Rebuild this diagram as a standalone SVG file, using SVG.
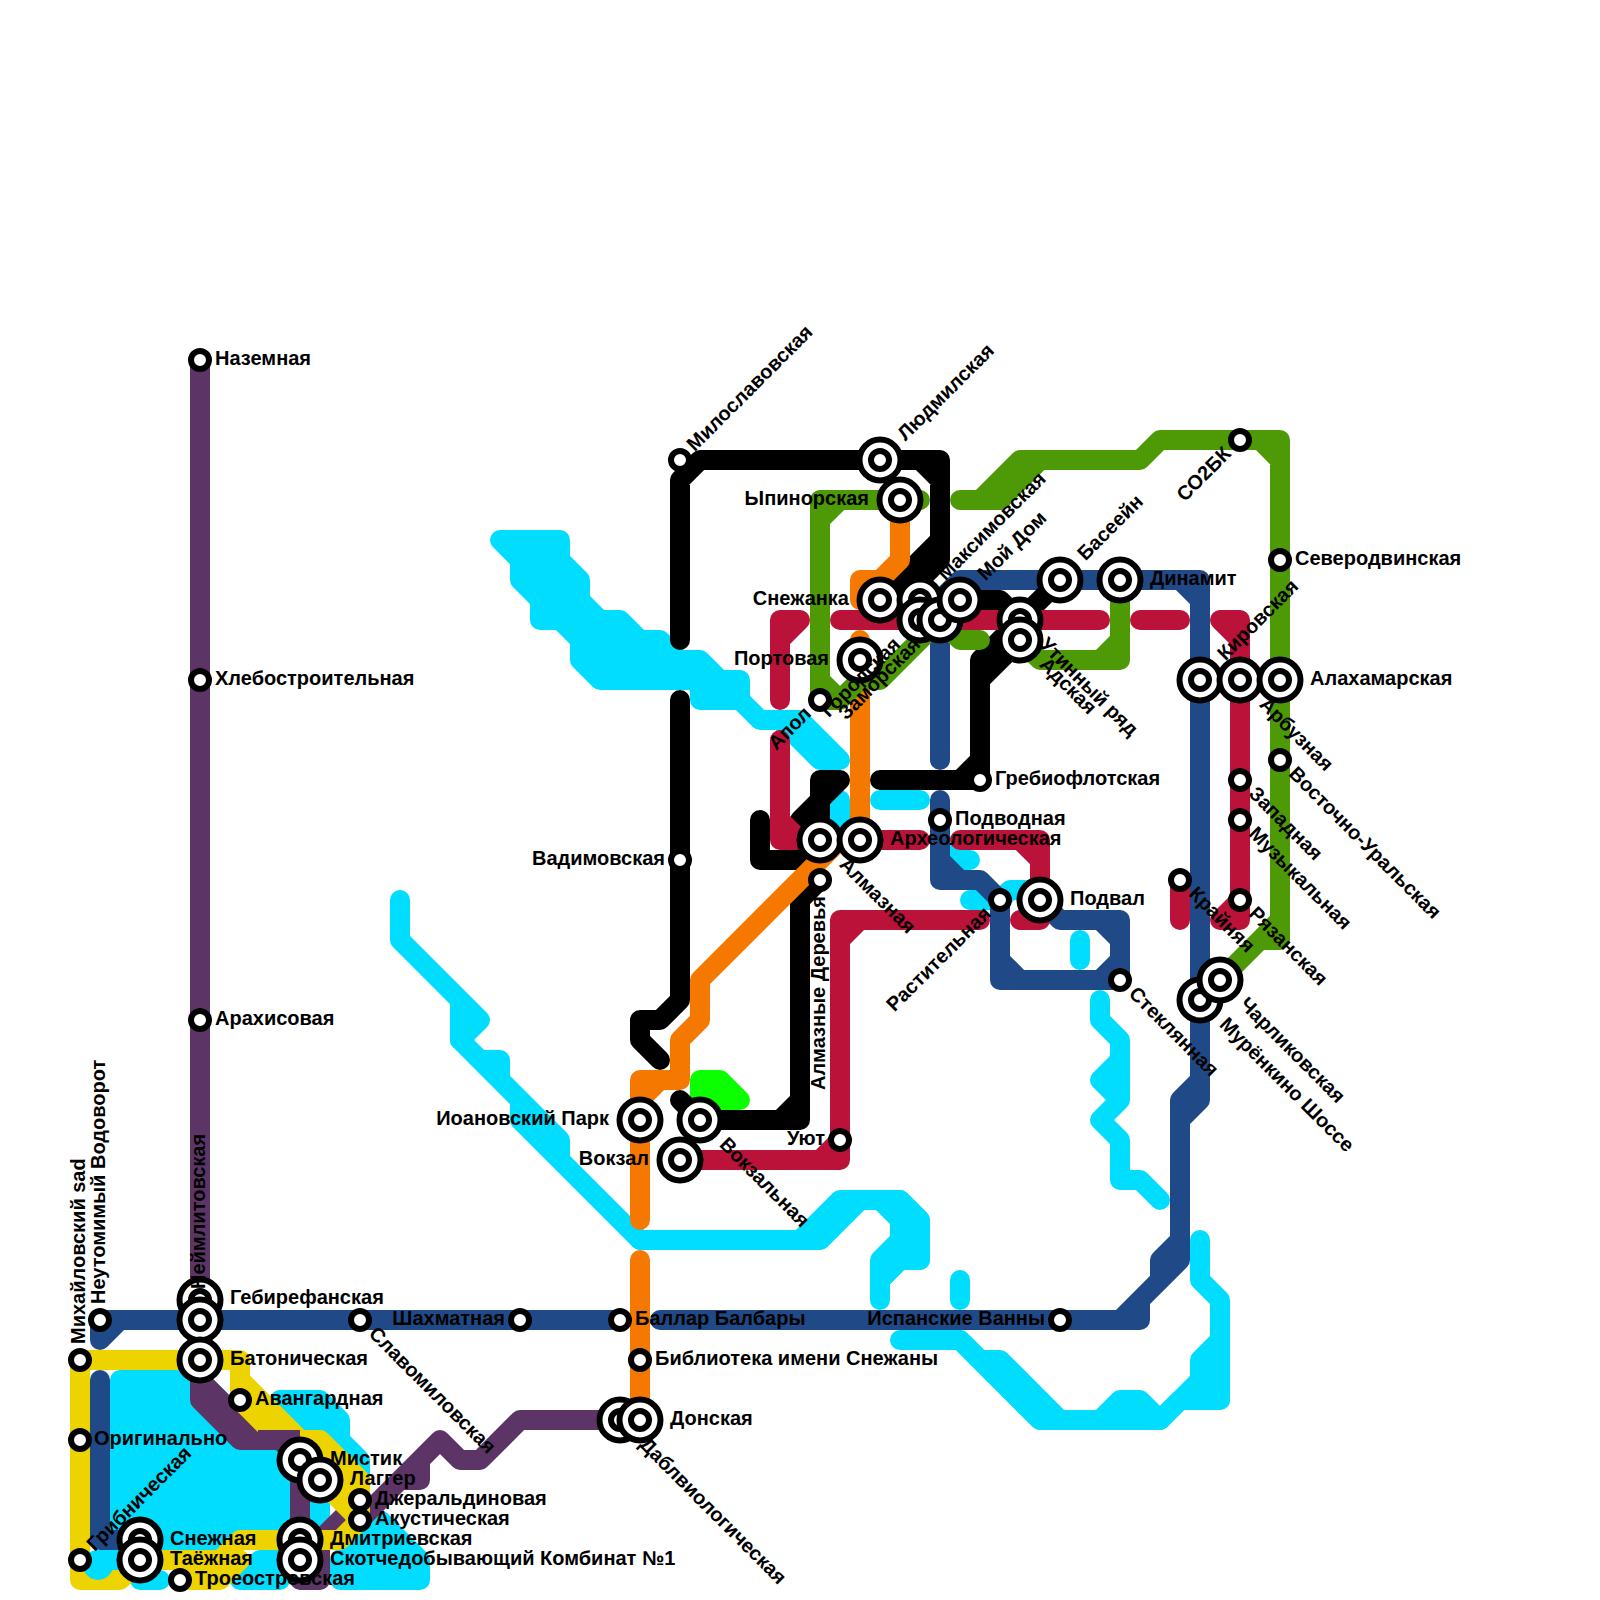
<svg xmlns="http://www.w3.org/2000/svg" width="1600" height="1600" viewBox="0 0 1600 1600">
<style>
.l{fill:none;stroke-width:20;stroke-linecap:round;stroke-linejoin:round}
.c{stroke:#00ddff}.g{stroke:#4e9a06}.n{stroke:#204a87}.r{stroke:#bb1239}.o{stroke:#f57900}.k{stroke:#000}.y{stroke:#edd400}.p{stroke:#5c3566}.v{stroke:#0cff00}
.fc{fill:#00ddff}.fy{fill:#edd400}.fv{fill:#0cff00}.fg{fill:#4e9a06}
text{font-family:"Liberation Sans",Arial,sans-serif;font-weight:700;font-size:20px;fill:#000}
.e{text-anchor:end}
.ring{fill:#fff;stroke:#000;stroke-width:6}
</style>
<defs>
<g id="big"><circle class="ring" r="20.5"/><circle class="ring" r="9"/></g>
<g id="sm"><circle class="ring" r="9"/></g>
</defs>
<rect width="1600" height="1600" fill="#fff"/>
<g id="connectors">
<g id="cyan">
<path class="l c fc" d="M500,540H560V560L580,580V600L600,620H620L640,640H660L680,660H700L720,680H740V700L760,720H800L840,760H820L780,720H760L740,700H700V680H600L580,660V640L560,620H540V600L520,580V560Z"/>
<path class="l c" d="M400,900V940L480,1020L460,1040V1000"/>
<path class="l c fc" d="M460,1040L480,1060H500V1080L560,1140V1160L640,1240L520,1120V1100Z"/>
<path class="l c" d="M640,1240H820L860,1200H900L920,1220V1260H900L880,1280V1300"/>
<path class="l c fc" d="M800,1240L840,1200H860L820,1240Z"/>
<path class="l c fc" d="M880,1200L900,1220V1240L880,1260V1280L900,1260H920V1220L900,1200Z"/>
<path class="l c" d="M880,800H920M840,800V820M940,840L960,860H970M970,900H1000L1010,890H1030M1080,940V960M960,1280V1300"/>
<path class="l c" d="M1100,1000V1020L1120,1040V1100L1100,1120L1120,1140V1180H1140L1160,1200M1120,1060L1100,1080L1120,1100"/>
<path class="l c" d="M900,1340H960L1040,1420H1160L1180,1400H1220V1300L1200,1280V1240"/>
<path class="l c fc" d="M960,1340L980,1360H1000L1060,1420H1040Z"/>
<path class="l c fc" d="M1100,1420L1120,1400H1140L1160,1420Z"/>
<path class="l c fc" d="M1160,1420L1200,1380V1360L1220,1340V1400H1180Z"/>
<path class="l c fc" d="M120,1380H200L280,1460V1540H120Z"/>
<path class="l c fc" d="M280,1400H320L340,1420V1440L360,1460V1480L320,1440H300Z"/>
<path class="l c" d="M320,1480V1520M140,1580H160"/>
<path class="l c fc" d="M240,1580L260,1560H280V1580Z"/>
<path class="l c fc" d="M340,1580H420V1560L380,1520L340,1560Z"/>
</g>
<path id="lime" class="l v fv" d="M700,1080H720L740,1100H700Z"/>
<path id="navy" class="l n" d="M100,1340V1320H620M100,1340L120,1320M100,1380V1540H140M660,1320H1140V1300L1180,1260V1240M1120,1320L1160,1280V1260L1180,1240V1120L1200,1100V600L1180,580H960L940,600V760M1200,1080L1180,1100V1120M1180,580H1200V600M940,800V880H980L1000,900V980H1120V920H1060L1040,900M940,860L960,880M1000,960L1020,980M1100,920L1120,940M1120,960L1100,980"/>
<path id="purple" class="l p" d="M200,360V1400L240,1440H280L300,1460V1580H320V1540L345,1515M200,1380L260,1440M360,1520L440,1440L460,1460H480L520,1420H620M400,1480H420V1460"/>
<g id="yellow">
<path class="l y" d="M80,1580V1360H240V1380L300,1440H320L360,1480V1520L340,1540H240L220,1560H140L120,1580H80M180,1580H220L240,1560H220"/>
<path class="l y fy" d="M240,1380L300,1440L280,1440L240,1400ZM300,1440H320L360,1480V1520L300,1460Z"/>
</g>
<path id="purple-over" d="M258,1440H300" fill="none" stroke="#5c3566" stroke-width="20"/>
<g id="cyan-over"><circle cx="98" cy="1565" r="15" class="fc"/><path class="l c" d="M100,1560H130"/></g>
<path id="black" class="l k" d="M680,640V480L700,460H940V560L900,600H1000L1010,610M920,460L940,480M940,540L900,580M1020,620L1060,580M1020,620L980,660V780H880M1020,640L980,680M980,760L960,780M840,780H820V840L800,860H760V820M840,780L800,820M820,880L800,900V1120H700L680,1100M800,1100L780,1120M680,700V1000L660,1020H640V1040L660,1060"/>
<path id="orange" class="l o" d="M900,500V560L880,580H860V600H880M860,640V840H840L700,980V1020L680,1040V1080H640V1220M660,1080L640,1100M640,1260V1420"/>
<path id="green" class="l g" d="M920,500H820V700H840L860,680H880L940,620L960,640H980M840,500L820,520M820,680L840,700M1020,640L1040,660H1120V580M1100,660L1120,640M960,500H1000L1040,460H1140L1160,440H1280V940H1260L1220,980M1260,440L1280,460M1280,920L1260,940"/>
<path id="green-fill" class="l g fg" d="M980,500L1020,460H1040L1000,500Z"/>
<path id="crimson" class="l r" d="M780,700V620H800L780,640M840,620H1100M1140,620H1180M1220,620H1240V920H1220L1240,900M1220,620L1240,640M1180,880V920M780,740V840H820M780,820L800,840M860,840H920M960,840H1040V920H1020M1020,840L1040,860M980,920H840V1160H680M860,920L840,940M820,1160L840,1140"/>
</g>
<g id="nodes">
<g id="n1"><use href="#sm" x="200" y="360"/></g>
<g id="n2"><use href="#sm" x="200" y="680"/></g>
<g id="n3"><use href="#sm" x="200" y="1020"/></g>
<g id="n4"><use href="#big" x="200" y="1300"/></g>
<g id="n5"><use href="#big" x="200" y="1320"/></g>
<g id="n6"><use href="#big" x="200" y="1360"/></g>
<g id="n7"><use href="#sm" x="80" y="1360"/></g>
<g id="n8"><use href="#sm" x="100" y="1320"/></g>
<g id="n9"><use href="#sm" x="80" y="1440"/></g>
<g id="n10"><use href="#sm" x="80" y="1560"/></g>
<g id="n11"><use href="#big" x="140" y="1540"/></g>
<g id="n12"><use href="#big" x="140" y="1560"/></g>
<g id="n13"><use href="#sm" x="180" y="1580"/></g>
<g id="n14"><use href="#sm" x="240" y="1400"/></g>
<g id="n15"><use href="#big" x="300" y="1460"/></g>
<g id="n16"><use href="#big" x="320" y="1480"/></g>
<g id="n17"><use href="#sm" x="360" y="1500"/></g>
<g id="n18"><use href="#sm" x="360" y="1520"/></g>
<g id="n19"><use href="#big" x="300" y="1540"/></g>
<g id="n20"><use href="#big" x="300" y="1560"/></g>
<g id="n21"><use href="#sm" x="360" y="1320"/></g>
<g id="n22"><use href="#sm" x="520" y="1320"/></g>
<g id="n23"><use href="#sm" x="620" y="1320"/></g>
<g id="n24"><use href="#sm" x="640" y="1360"/></g>
<g id="n25"><use href="#big" x="620" y="1420"/></g>
<g id="n26"><use href="#big" x="640" y="1420"/></g>
<g id="n27"><use href="#big" x="640" y="1120"/></g>
<g id="n28"><use href="#big" x="700" y="1120"/></g>
<g id="n29"><use href="#big" x="680" y="1160"/></g>
<g id="n30"><use href="#sm" x="840" y="1140"/></g>
<g id="n31"><use href="#sm" x="820" y="880"/></g>
<g id="n32"><use href="#big" x="820" y="840"/></g>
<g id="n33"><use href="#big" x="860" y="840"/></g>
<g id="n34"><use href="#sm" x="680" y="860"/></g>
<g id="n35"><use href="#sm" x="680" y="460"/></g>
<g id="n36"><use href="#big" x="880" y="460"/></g>
<g id="n37"><use href="#big" x="900" y="500"/></g>
<g id="n38"><use href="#big" x="880" y="600"/></g>
<g id="n39"><use href="#big" x="860" y="660"/></g>
<g id="n40"><use href="#sm" x="820" y="700"/></g>
<g id="n41"><use href="#big" x="920" y="600"/></g>
<g id="n42"><use href="#big" x="920" y="620"/></g>
<g id="n43"><use href="#big" x="940" y="620"/></g>
<g id="n44"><use href="#big" x="960" y="600"/></g>
<g id="n45"><use href="#big" x="1020" y="620"/></g>
<g id="n46"><use href="#big" x="1020" y="640"/></g>
<g id="n47"><use href="#big" x="1060" y="580"/></g>
<g id="n48"><use href="#big" x="1120" y="580"/></g>
<g id="n49"><use href="#sm" x="980" y="780"/></g>
<g id="n50"><use href="#sm" x="940" y="820"/></g>
<g id="n51"><use href="#sm" x="1000" y="900"/></g>
<g id="n52"><use href="#big" x="1040" y="900"/></g>
<g id="n53"><use href="#sm" x="1120" y="980"/></g>
<g id="n54"><use href="#sm" x="1180" y="880"/></g>
<g id="n55"><use href="#sm" x="1240" y="900"/></g>
<g id="n56"><use href="#sm" x="1240" y="780"/></g>
<g id="n57"><use href="#sm" x="1240" y="820"/></g>
<g id="n58"><use href="#big" x="1200" y="680"/></g>
<g id="n59"><use href="#big" x="1240" y="680"/></g>
<g id="n60"><use href="#big" x="1280" y="680"/></g>
<g id="n61"><use href="#sm" x="1280" y="560"/></g>
<g id="n62"><use href="#sm" x="1280" y="760"/></g>
<g id="n63"><use href="#sm" x="1240" y="440"/></g>
<g id="n64"><use href="#big" x="1200" y="1000"/></g>
<g id="n65"><use href="#big" x="1220" y="980"/></g>
<g id="n66"><use href="#sm" x="1060" y="1320"/></g>
</g>
<g id="labels">
<text x="215" y="365">Наземная</text>
<text x="215" y="685">Хлебостроительная</text>
<text x="215" y="1025">Арахисовая</text>
<text x="230" y="1304">Гебирефанская</text>
<text x="230" y="1365">Батоническая</text>
<text x="255" y="1405">Авангардная</text>
<text x="94" y="1445">Оригинально</text>
<text class="e" x="505" y="1325">Шахматная</text>
<text x="635" y="1325">Баллар Балбары</text>
<text x="655" y="1365">Библиотека имени Снежаны</text>
<text x="670" y="1425">Донская</text>
<text class="e" x="609" y="1125">Иоановский Парк</text>
<text class="e" x="649" y="1165">Вокзал</text>
<text class="e" x="825" y="1145">Уют</text>
<text class="e" x="665" y="865">Вадимовская</text>
<text x="995" y="785">Гребиофлотская</text>
<text x="955" y="825">Подводная</text>
<text x="890" y="845">Археологическая</text>
<text x="1070" y="905">Подвал</text>
<text x="1150" y="585">Динамит</text>
<text x="1295" y="565">Северодвинская</text>
<text x="1310" y="685">Алахамарская</text>
<text class="e" x="869" y="505">Ыпинорская</text>
<text class="e" x="849" y="605">Снежанка</text>
<text class="e" x="829" y="665">Портовая</text>
<text class="e" x="1045" y="1325">Испанские Ванны</text>
<text x="330" y="1465">Мистик</text>
<text x="350" y="1485">Лаггер</text>
<text x="375" y="1505">Джеральдиновая</text>
<text x="375" y="1525">Акустическая</text>
<text x="170" y="1545">Снежная</text>
<text x="170" y="1565">Таёжная</text>
<text x="195" y="1585">Троеостровская</text>
<text x="330" y="1545">Дмитриевская</text>
<text x="330" y="1565">Скотчедобывающий Комбинат №1</text>
<text transform="translate(80,1360) rotate(-90)" x="16" y="5">Михайловский sad</text>
<text transform="translate(100,1320) rotate(-90)" x="16" y="5">Неутомимый Водоворот</text>
<text transform="translate(200,1320) rotate(-90)" x="31" y="5">Неймлитовская</text>
<text class="e" transform="translate(820,880) rotate(-90)" x="-16" y="5">Алмазные Деревья</text>
<text transform="translate(80,1560) rotate(-45)" x="16" y="5">Грибническая</text>
<text transform="translate(680,460) rotate(-45)" x="16" y="5">Милославовская</text>
<text transform="translate(880,460) rotate(-45)" x="31" y="5">Людмилская</text>
<text transform="translate(920,600) rotate(-45)" x="31" y="5">Максимовская</text>
<text transform="translate(960,600) rotate(-45)" x="31" y="5">Мой Дом</text>
<text transform="translate(1060,580) rotate(-45)" x="31" y="5">Басеейн</text>
<text transform="translate(1200,680) rotate(-45)" x="31" y="5">Кировская</text>
<text class="e" transform="translate(820,700) rotate(-45)" x="-16" y="5">Апол</text>
<text class="e" transform="translate(920,620) rotate(-45)" x="-31" y="5">Городская</text>
<text class="e" transform="translate(940,620) rotate(-45)" x="-31" y="5">Заморская</text>
<text class="e" transform="translate(1000,900) rotate(-45)" x="-16" y="5">Растительная</text>
<text class="e" transform="translate(1240,440) rotate(-45)" x="-16" y="5">СО2БК</text>
<text transform="translate(360,1320) rotate(45)" x="16" y="5">Славомиловская</text>
<text transform="translate(620,1420) rotate(45)" x="31" y="5">Даблвиологическая</text>
<text transform="translate(700,1120) rotate(45)" x="31" y="5">Вокзальная</text>
<text transform="translate(820,840) rotate(45)" x="31" y="5">Алмазная</text>
<text transform="translate(1020,620) rotate(45)" x="31" y="5">Утинный ряд</text>
<text transform="translate(1020,640) rotate(45)" x="31" y="5">Адская</text>
<text transform="translate(1240,680) rotate(45)" x="31" y="5">Арбузная</text>
<text transform="translate(1280,760) rotate(45)" x="16" y="5">Восточно-Уральская</text>
<text transform="translate(1240,780) rotate(45)" x="16" y="5">Западная</text>
<text transform="translate(1240,820) rotate(45)" x="16" y="5">Музыкальная</text>
<text transform="translate(1240,900) rotate(45)" x="16" y="5">Рязанская</text>
<text transform="translate(1180,880) rotate(45)" x="16" y="5">Крайняя</text>
<text transform="translate(1120,980) rotate(45)" x="16" y="5">Стеклянная</text>
<text transform="translate(1220,980) rotate(45)" x="31" y="5">Чарликовская</text>
<text transform="translate(1200,1000) rotate(45)" x="31" y="5">Мурёнкино Шоссе</text>
</g>
</svg>
